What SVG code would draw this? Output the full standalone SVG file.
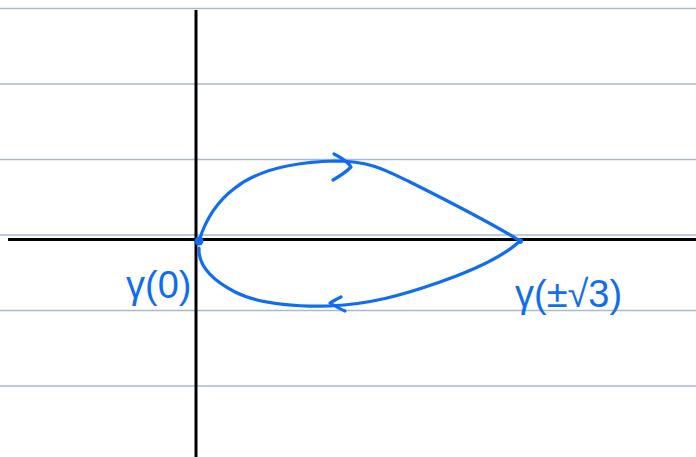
<svg xmlns="http://www.w3.org/2000/svg" width="696" height="457" viewBox="0 0 696 457">
<style>
.rule{stroke:#a9b9d3;stroke-width:1.5}
.axis{stroke:#000;stroke-width:3;fill:none}
.ink{stroke:#0f6cf7;stroke-width:3.2;fill:none;stroke-linecap:round;stroke-linejoin:round}
.lbl{fill:#0f6cf7;font-family:"Liberation Sans",sans-serif;font-size:38px}
</style>
<rect width="696" height="457" fill="#fff"/>
<g id="rules">
<line class="rule" x1="0" y1="8.5" x2="696" y2="8.5"/>
<line class="rule" x1="0" y1="84" x2="696" y2="84"/>
<line class="rule" x1="0" y1="159.5" x2="696" y2="159.5"/>
<line class="rule" x1="0" y1="235" x2="696" y2="235"/>
<line class="rule" x1="0" y1="310.5" x2="696" y2="310.5"/>
<line class="rule" x1="0" y1="386" x2="696" y2="386"/>
</g>
<g id="axes">
<line class="axis" x1="196" y1="10" x2="196" y2="457"/>
<line class="axis" x1="8" y1="239.5" x2="696" y2="239.5"/>
</g>
<g id="connectors">
<path class="ink" d="M199,241 C203,228 212,205 235,188 C258,170 290,162 335,161 C370,161 385,170 410,182 C450,202 490,222 520,241"/>
<path class="ink" d="M520,241 C505,255 480,268 440,282 C400,296 370,304 330,306 C285,307 255,302 235,292 C212,280 198,265 199,248"/>
<path class="ink" d="M334,154 C342,158 348,162 351,167 C346,172 340,176 333,180"/>
<path class="ink" d="M341,297 C337,299 333,301 330,303 C335,306 340,309 345,311"/>
</g>
<g id="p0"><circle cx="199" cy="241" r="4.5" fill="#0f6cf7"/></g>
<g id="p1"><circle cx="520" cy="241" r="3" fill="#0f6cf7"/></g>
<text class="lbl" x="126" y="298">γ(0)</text>
<text class="lbl" x="515" y="307">γ(±√3)</text>
</svg>
